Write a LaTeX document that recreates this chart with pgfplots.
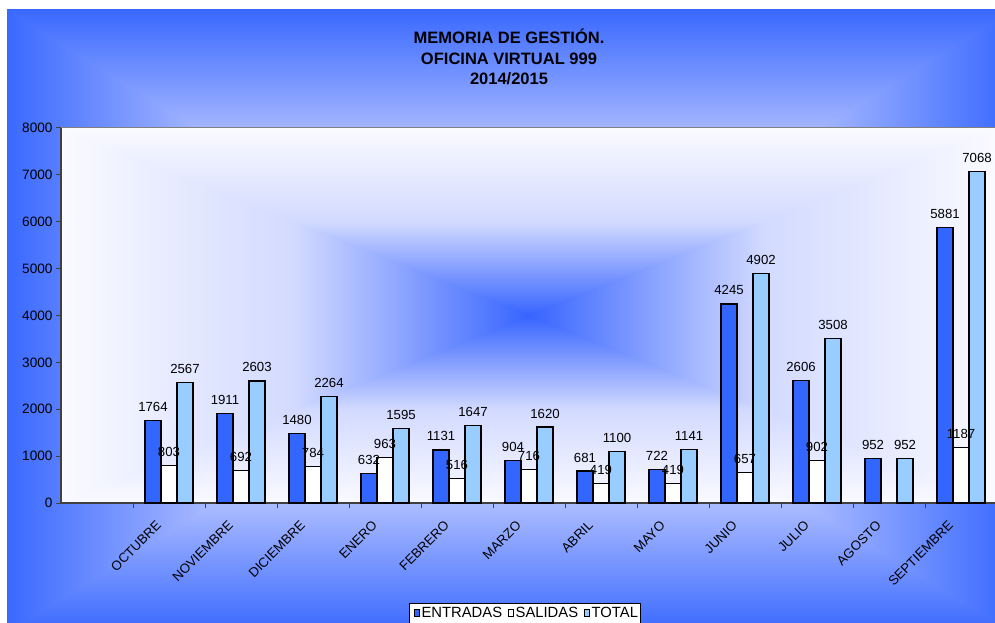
\documentclass[border=0pt]{standalone}
\usepackage{fontspec}
\setmainfont{Liberation Sans}
\usepackage{pgfplots}
\pgfplotsset{compat=1.18}
\definecolor{ent}{RGB}{51,102,255}
\definecolor{tot}{RGB}{153,204,255}
\definecolor{bgEdge}{RGB}{58,105,255}
\definecolor{bgMid}{RGB}{195,205,255}
\definecolor{bgCen}{RGB}{235,238,255}
\definecolor{paEdge}{RGB}{250,250,255}
\definecolor{paMid}{RGB}{210,218,255}
\definecolor{paCen}{RGB}{55,100,255}
\definecolor{axcol}{RGB}{64,64,64}
\begin{document}
\begin{tikzpicture}[x=1pt,y=1pt]
\path[use as bounding box] (0,0) rectangle (995,622);
% chart area background (rectangular gradient from centre)
\shade[top color=bgEdge, bottom color=bgCen, middle color=bgMid] (7,301) rectangle (1011,612);
\shade[top color=bgCen, bottom color=bgEdge, middle color=bgMid] (7,-10) rectangle (1011,301);
\shade[left color=bgEdge, right color=bgCen, middle color=bgMid] (7,-10) -- (7,612) -- (509,301) -- cycle;
\shade[left color=bgCen, right color=bgEdge, middle color=bgMid] (1011,-10) -- (1011,612) -- (509,301) -- cycle;
% plot area background
\shade[top color=paEdge, bottom color=paCen, middle color=paMid] (61,306.5) rectangle (997,494);
\shade[top color=paCen, bottom color=paEdge, middle color=paMid] (61,119) rectangle (997,306.5);
\shade[left color=paEdge, right color=paCen, middle color=paMid] (61,119) -- (61,494) -- (529,306.5) -- cycle;
\shade[left color=paCen, right color=paEdge, middle color=paMid] (997,119) -- (997,494) -- (529,306.5) -- cycle;
\draw[black!50, line width=1pt] (61,494) -- (997,494);
% title
\node[anchor=base, font=\fontsize{16.5}{16.5}\selectfont\bfseries] at (509,578.5) {MEMORIA DE GESTIÓN.};
\node[anchor=base, font=\fontsize{16.5}{16.5}\selectfont\bfseries] at (509,557.8) {OFICINA VIRTUAL 999};
\node[anchor=base, font=\fontsize{16.5}{16.5}\selectfont\bfseries] at (509,537.2) {2014/2015};
\begin{axis}[
  at={(61pt,119pt)}, anchor=south west, scale only axis,
  width=936pt, height=375pt,
  xmin=-0.5, xmax=12.5, ymin=0, ymax=8000,
  ybar=0pt, bar width=16pt,
  axis x line*=bottom, axis y line*=left,
  axis line style={draw=axcol, line width=1.2pt, -},
  tick align=outside,
  major tick length=5pt, minor tick length=5pt,
  ytick={0,1000,...,8000},
  y tick style={draw=axcol, line width=1pt},
  xtick={1,...,12},
  xticklabels={OCTUBRE,NOVIEMBRE,DICIEMBRE,ENERO,FEBRERO,MARZO,ABRIL,MAYO,JUNIO,JULIO,AGOSTO,SEPTIEMBRE},
  major x tick style={draw=none},
  minor xtick={0.5,1.5,...,11.5},
  minor x tick style={draw=axcol, line width=1pt},
  xticklabel style={xshift=-13.6pt, yshift=-7pt, rotate=45, anchor=north east, font=\fontsize{13.2}{13.2}\selectfont},
  yticklabel style={font=\fontsize{13.6}{13.6}\selectfont},
  scaled y ticks=false,
  /pgf/number format/1000 sep={},
  /pgf/number format/assume math mode=true,
  nodes near coords,
  nodes near coords style={font=\fontsize{13.2}{13.2}\selectfont, text=black, anchor=south, yshift=5pt},
  every axis plot/.append style={draw=black, line width=1.2pt},
  legend columns=-1,
  legend style={at={(axis description cs:0.4952,-0.267)}, anchor=north,
    draw=black, fill=white, line width=0.6pt,
    font=\fontsize{14.8}{15}\selectfont,
    inner xsep=0.5pt, inner ysep=1pt,
    nodes={inner xsep=1.5pt, inner ysep=3pt},
    /tikz/every even column/.append style={column sep=0pt},
    /tikz/every odd column/.append style={column sep=0pt}},
  legend image code/.code={\path (-4pt,0pt); \draw[#1, draw=black, line width=0.8pt] (0pt,-3.5pt) rectangle (5.5pt,3.5pt);},
]
\addplot[fill=ent] coordinates {(1,1764) (2,1911) (3,1480) (4,632) (5,1131) (6,904) (7,681) (8,722) (9,4245) (10,2606) (11,952) (12,5881)};
\addplot[fill=white] coordinates {(1,803) (2,692) (3,784) (4,963) (5,516) (6,716) (7,419) (8,419) (9,657) (10,902) (12,1187)};
\addplot[fill=tot] coordinates {(1,2567) (2,2603) (3,2264) (4,1595) (5,1647) (6,1620) (7,1100) (8,1141) (9,4902) (10,3508) (11,952) (12,7068)};
\legend{ENTRADAS,SALIDAS,TOTAL}
\end{axis}
\end{tikzpicture}
\end{document}
